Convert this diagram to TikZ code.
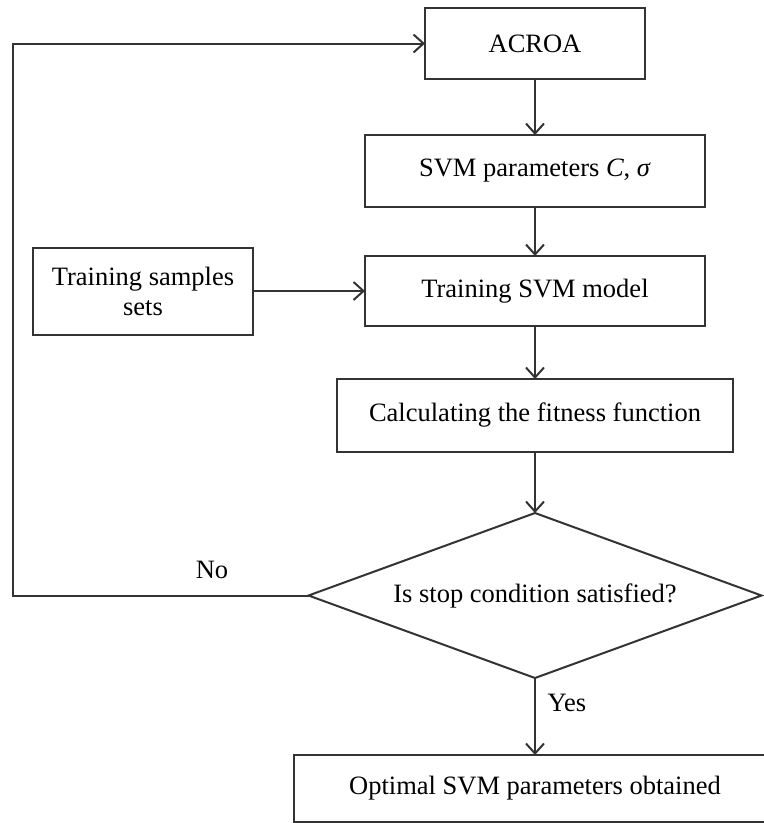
\documentclass[tikz,border=0pt]{standalone}
\usepackage{fontspec}
\setmainfont{Liberation Serif}
\usetikzlibrary{positioning}
\usetikzlibrary{shapes.geometric}
\usetikzlibrary{arrows.meta}

\tikzset{
  block/.style={draw=black!80, rectangle, line width=2pt, inner sep=2pt, outer sep=0pt, align=center},
  decision/.style={draw=black!80, diamond, aspect=2.75, line width=2pt, inner sep=0pt, outer sep=0pt, minimum width=453pt, minimum height=165pt},
  flow/.style={draw=black!80, line width=2pt, -{Straight Barb[length=10pt,width=18pt]}},
  note/.style={inner sep=0pt},
}

\begin{document}
\begin{tikzpicture}[x=1pt, y=-1pt, font=\fontsize{26.5}{30}\selectfont]
    \useasboundingbox (0,0) rectangle (764,823);

    \node[block, minimum width=220pt, minimum height=71pt] (acroa) at (535,43.5) {ACROA};
    \node[block, minimum width=340pt, minimum height=72pt, below=56pt of acroa] (params) {SVM parameters \textit{C}, \textit{σ}};
    \node[block, minimum width=340pt, minimum height=70pt, below=49pt of params] (train) {Training SVM model};
    \node[block, minimum width=220pt, minimum height=87pt, left=112pt of train] (samples) {Training samples\\sets};
    \node[block, minimum width=396pt, minimum height=73pt, below=53pt of train] (fitness) {Calculating the fitness function};
    \node[decision, below=61pt of fitness] (stop) {Is stop condition satisfied?};
    \node[block, minimum width=482pt, minimum height=67pt, below=77pt of stop] (optimal) {Optimal SVM parameters obtained};

    \node[note] (no) at (212,570) {No};
    \node[note] (yes) at (567,703) {Yes};
    \coordinate (loop) at (13,0);

    % Connect the nodes
    \draw[flow] (acroa) -- (params);
    \draw[flow] (params) -- (train);
    \draw[flow] (samples) -- (train);
    \draw[flow] (train) -- (fitness);
    \draw[flow] (fitness) -- (stop);
    \draw[flow] (stop) -- (optimal);
    \draw[flow] (stop.west) -- (stop.west -| loop) |- (acroa.west);
\end{tikzpicture}
\end{document}
